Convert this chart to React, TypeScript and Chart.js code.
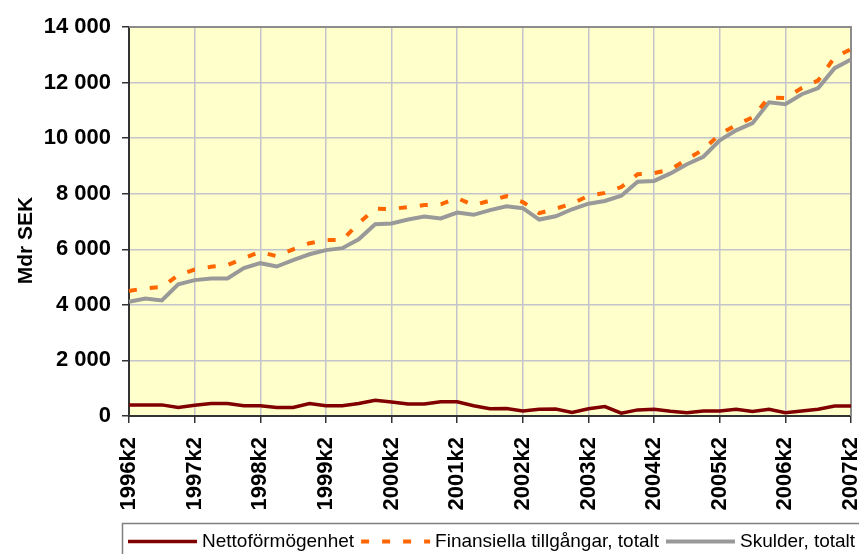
import { useEffect, useRef } from 'react';
import { Chart, registerables } from 'chart.js';

Chart.register(...registerables);

const FONT = '"Liberation Sans", Arial, Helvetica, sans-serif';

const quarters = [
  '1996k2', '1996k3', '1996k4', '1997k1',
  '1997k2', '1997k3', '1997k4', '1998k1',
  '1998k2', '1998k3', '1998k4', '1999k1',
  '1999k2', '1999k3', '1999k4', '2000k1',
  '2000k2', '2000k3', '2000k4', '2001k1',
  '2001k2', '2001k3', '2001k4', '2002k1',
  '2002k2', '2002k3', '2002k4', '2003k1',
  '2003k2', '2003k3', '2003k4', '2004k1',
  '2004k2', '2004k3', '2004k4', '2005k1',
  '2005k2', '2005k3', '2005k4', '2006k1',
  '2006k2', '2006k3', '2006k4', '2007k1',
  '2007k2',
];

const nettoformogenhet = [
  400, 400, 400, 310, 390, 450, 450, 370, 370, 310, 310, 450, 370, 370, 450,
  570, 500, 430, 430, 510, 510, 370, 260, 270, 180, 240, 250, 130, 260, 340,
  100, 220, 240, 170, 120, 180, 180, 240, 160, 240, 120, 180, 240, 360, 360,
];

const finansiellaTillgangar = [
  4500, 4600, 4640, 5070, 5270, 5370, 5430, 5680, 5910, 5750, 6000, 6220, 6330, 6330, 6940,
  7460, 7450, 7520, 7590, 7620, 7840, 7590, 7750, 7910, 7700, 7300, 7460, 7640, 7930, 8030,
  8240, 8700, 8740, 8870, 9240, 9590, 10140, 10470, 10750, 11470, 11440, 11800, 12080, 12910, 13200,
];

const skulder = [
  4110, 4230, 4160, 4740, 4890, 4950, 4950, 5320, 5500, 5380, 5610, 5820, 5970, 6040, 6360,
  6900, 6930, 7070, 7180, 7110, 7320, 7240, 7410, 7550, 7480, 7070, 7190, 7440, 7640, 7740,
  7930, 8430, 8460, 8730, 9060, 9330, 9920, 10280, 10540, 11290, 11220, 11580, 11800, 12520, 12830,
];

const seriesLabels = ['Nettoförmögenhet', 'Finansiella tillgångar, totalt', 'Skulder, totalt'];
const yAxisTitle = 'Mdr SEK';
const yMin = 0;
const yMax = 14000;
const yStep = 2000;

const fmt = (v: number) => String(v).replace(/\B(?=(\d{3})+(?!\d))/g, ' ');

const plotBackground = {
  id: 'plotBackground',
  beforeDraw(chart: any) {
    const { ctx, chartArea } = chart;
    ctx.save();
    ctx.fillStyle = '#FFFFCC';
    ctx.fillRect(chartArea.left, chartArea.top, chartArea.right - chartArea.left, chartArea.bottom - chartArea.top);
    ctx.restore();
  },
  beforeDatasetsDraw(chart: any) {
    const { ctx, chartArea } = chart;
    ctx.save();
    ctx.strokeStyle = '#8C8C8C';
    ctx.lineWidth = 2;
    ctx.beginPath();
    ctx.moveTo(chartArea.left, chartArea.top);
    ctx.lineTo(chartArea.right, chartArea.top);
    ctx.lineTo(chartArea.right, chartArea.bottom);
    ctx.stroke();
    ctx.restore();
  },
};

const yTitlePlugin = {
  id: 'yTitlePlugin',
  afterDraw(chart: any) {
    const { ctx, chartArea } = chart;
    ctx.save();
    ctx.translate(31.5, (chartArea.top + chartArea.bottom) / 2 + 19);
    ctx.rotate(-Math.PI / 2);
    ctx.font = `bold 21px ${FONT}`;
    ctx.fillStyle = '#000';
    ctx.textAlign = 'center';
    ctx.textBaseline = 'alphabetic';
    ctx.fillText(yAxisTitle, 0, 0);
    ctx.restore();
  },
};

const legendBox = {
  id: 'legendBox',
  afterDraw(chart: any) {
    const ctx = chart.ctx;
    ctx.save();
    ctx.strokeStyle = '#808080';
    ctx.lineWidth = 1.5;
    ctx.strokeRect(122.5, 523.5, chart.width, 60);
    ctx.font = `19px ${FONT}`;
    ctx.textBaseline = 'alphabetic';
    ctx.textAlign = 'left';
    let x = 128;
    const lineY = 541.5;
    const textY = 547;
    chart.data.datasets.forEach((ds: any) => {
      ctx.beginPath();
      ctx.setLineDash(ds.borderDash || []);
      ctx.lineWidth = ds.borderWidth;
      ctx.strokeStyle = ds.borderColor;
      ctx.moveTo(x, lineY);
      ctx.lineTo(x + 69, lineY);
      ctx.stroke();
      ctx.setLineDash([]);
      x += 69 + 5;
      ctx.fillStyle = '#000';
      ctx.fillText(ds.label, x, textY);
      x += ctx.measureText(ds.label).width + 7;
    });
    ctx.restore();
  },
};

export default function App() {
  const ref = useRef<HTMLCanvasElement | null>(null);

  useEffect(() => {
    if (!ref.current) return;
    const chart = new Chart(ref.current, {
      type: 'line',
      data: {
        labels: quarters,
        datasets: [
          {
            label: seriesLabels[0],
            data: nettoformogenhet,
            borderColor: '#800000',
            borderWidth: 3.5,
            pointRadius: 0,
            tension: 0,
            fill: false,
          },
          {
            label: seriesLabels[1],
            data: finansiellaTillgangar,
            borderColor: '#FF6600',
            borderWidth: 4,
            borderDash: [8, 13],
            pointRadius: 0,
            tension: 0,
            fill: false,
          },
          {
            label: seriesLabels[2],
            data: skulder,
            borderColor: '#999999',
            borderWidth: 4,
            pointRadius: 0,
            tension: 0,
            fill: false,
          },
        ],
      },
      options: {
        responsive: false,
        devicePixelRatio: 1,
        animation: false,
        layout: { padding: { top: 27, right: 8, bottom: 0, left: 0 } },
        plugins: {
          legend: { display: false },
          tooltip: { enabled: false },
          title: { display: false },
        },
        scales: {
          x: {
            type: 'category',
            offset: false,
            afterFit(scale: any) {
              scale.height = 138;
              scale.paddingLeft = 0;
              scale.paddingRight = 0;
            },
            grid: {
              color: (c: any) => (c.index % 4 === 0 ? '#C4C4CC' : 'rgba(0,0,0,0)'),
              tickColor: (c: any) => (c.index % 4 === 0 ? '#333333' : 'rgba(0,0,0,0)'),
              tickLength: 7,
              lineWidth: 1.5,
            },
            border: { display: true, color: '#333333', width: 2 },
            ticks: {
              autoSkip: false,
              minRotation: 90,
              maxRotation: 90,
              padding: 14,
              color: '#000',
              font: { family: FONT, size: 22, weight: 'bold' },
              callback: (_v: any, i: number) => (i % 4 === 0 ? quarters[i] : ''),
            },
          },
          y: {
            min: yMin,
            max: yMax,
            afterFit(scale: any) {
              scale.width = 129;
            },
            grid: {
              color: '#C4C4CC',
              tickColor: '#333333',
              tickLength: 7,
              lineWidth: 1.5,
            },
            border: { display: true, color: '#333333', width: 2 },
            ticks: {
              stepSize: yStep,
              padding: 11,
              color: '#000',
              font: { family: FONT, size: 22, weight: 'bold' },
              callback: (v: any) => fmt(Number(v)),
            },
          },
        },
      },
      plugins: [plotBackground, yTitlePlugin, legendBox],
    });
    return () => chart.destroy();
  }, []);

  return (
    <div style={{ position: 'absolute', left: 0, top: 0, width: 859, height: 554, overflow: 'hidden', background: '#fff' }}>
      <canvas ref={ref} width={859} height={554} style={{ display: 'block', width: 859, height: 554 }} />
    </div>
  );
}
